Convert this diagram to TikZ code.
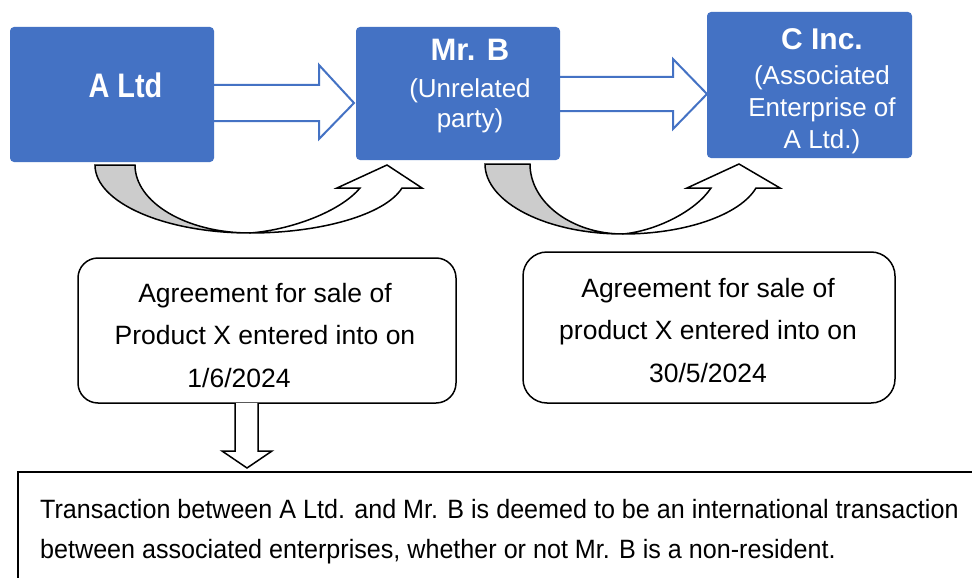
\documentclass[tikz,border=0pt]{standalone}
\usepackage{fontspec}
\setmainfont{Liberation Sans}
\newfontfamily\condfont[FakeStretch=0.85]{Liberation Sans}
\newfontfamily\notefont[FakeStretch=0.948]{Liberation Sans}
\definecolor{boxblue}{HTML}{4472C4}
\definecolor{ribbongray}{HTML}{CCCCCC}
\begin{document}
\begin{tikzpicture}[x=1pt,y=-1pt,
  bluebox/.style={fill=boxblue, rounded corners=4pt, inner sep=0pt},
  roundbox/.style={draw=black, line width=1.5pt, fill=white, rounded corners=22pt, inner sep=0pt},
  blockarrow/.style={draw=boxblue, line width=2pt, fill=white, line join=miter},
  ribbon/.style={draw=black, line width=1.5pt, line join=miter},
  titletext/.style={anchor=base, text=white, font=\bfseries\fontsize{30}{36}\selectfont},
  subtext/.style={anchor=base, text=white, align=center},
  bodytext/.style={anchor=base, text=black, align=center, font=\fontsize{26.5}{42.5}\selectfont}
]
\path[use as bounding box] (0,0) rectangle (972,578);
\clip (0,0) rectangle (972,578);
\fill[white] (0,0) rectangle (972,578);

% block arrows between boxes
\draw[blockarrow] (212,85) -- (319,85) -- (319,65) -- (354,103) -- (319,139) -- (319,121) -- (212,121) -- cycle;
\draw[blockarrow] (558,77) -- (673,77) -- (673,59) -- (707,94) -- (673,129) -- (673,111) -- (558,111) -- cycle;

% blue boxes
\node[bluebox, minimum width=204pt, minimum height=135pt] (A) at (112,94.5) {};
\node[bluebox, minimum width=204pt, minimum height=133pt] (B) at (458,93.5) {};
\node[bluebox, minimum width=205pt, minimum height=146pt] (C) at (809.5,85) {};

\node[anchor=base, text=white, font=\condfont\bfseries\fontsize{34}{40}\selectfont] (At) at (125.5,97) {A Ltd};
\node[titletext, font=\bfseries\fontsize{31}{36}\selectfont] (Bt) at (470,61) {Mr. B};
\node[subtext, font=\fontsize{26}{30}\selectfont] (Bs) at (470,127) {(Unrelated\\party)};
\node[titletext] (Ct) at (822,50) {C Inc.};
\node[subtext, font=\fontsize{26}{32}\selectfont] (Cs) at (822,148) {(Associated\\Enterprise of\\A Ltd.)};

% curved arrow 1
\filldraw[ribbon, fill=ribbongray] (95,165) -- (135,165)
  .. controls (135,202.5) and (186.5,233) .. (250,233)
  .. controls (164.4,233) and (95,202.5) .. (95,165) -- cycle;
\filldraw[ribbon, fill=white] (250,233)
  .. controls (290,230) and (340,212) .. (360,188)
  -- (337,188) -- (387,165) -- (422,188) -- (402,188)
  .. controls (385,215) and (320,233) .. (250,233) -- cycle;

% curved arrow 2
\filldraw[ribbon, fill=ribbongray] (485,164) -- (530,164)
  .. controls (530,202.6) and (572,234) .. (623,234)
  .. controls (547,234) and (485,202.6) .. (485,164) -- cycle;
\filldraw[ribbon, fill=white] (623,234)
  .. controls (655,231) and (695,212) .. (711,188)
  -- (687,188) -- (739,164) -- (780,188) -- (756,188)
  .. controls (740,215) and (685,234) .. (623,234) -- cycle;

% agreement boxes
\node[roundbox, minimum width=378pt, minimum height=145pt, rounded corners=20pt] (D) at (267,330.5) {};
\node[roundbox, minimum width=372pt, minimum height=151pt, rounded corners=24pt] (E) at (709,327.5) {};
\node[bodytext] (Dt) at (265,387) {Agreement for sale of\\Product X entered into on\\1/6/2024\hspace*{52pt}};
\node[bodytext] (Et) at (708,382) {Agreement for sale of\\product X entered into on\\30/5/2024};

% down arrow
\draw[ribbon, fill=white] (235,403) -- (235,451) -- (222,451) -- (247,468) -- (272,451) -- (258,451) -- (258,403);

% conclusion box
\draw[black, line width=2pt] (18,600) -- (18,472) -- (1000,472);
\node[anchor=base west, align=left, font=\notefont\fontsize{26.5}{40}\selectfont, inner sep=0pt] (F) at (40,558)
  {Transaction between A Ltd. and Mr. B is deemed to be an international transaction\\between associated enterprises, whether or not Mr. B is a non-resident.};
\end{tikzpicture}
\end{document}
